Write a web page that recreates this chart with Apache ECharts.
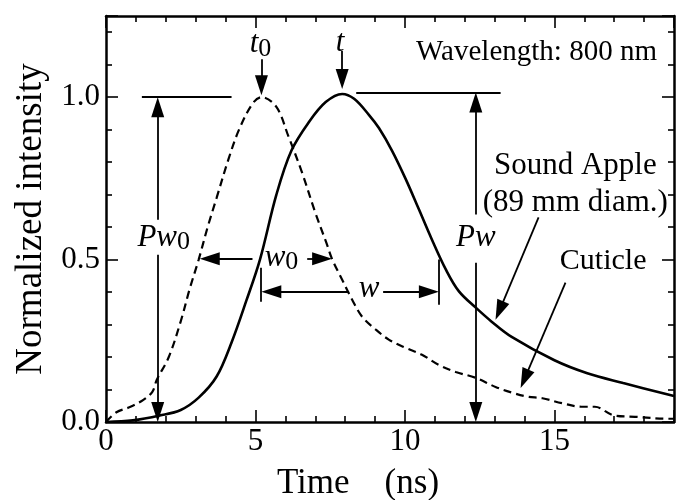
<!DOCTYPE html>
<html>
<head>
<meta charset="utf-8">
<script src="https://cdn.jsdelivr.net/npm/echarts@6/dist/echarts.min.js"></script>
<style>
  html, body { margin: 0; padding: 0; background: #fff; }
  #chart { width: 677px; height: 500px; }
</style>
</head>
<body>
<div id="chart"></div>
<script>
// time (ns) vs normalized intensity
const appleTime = [0, 0.9, 1.8, 2.5, 3.1, 3.7, 4.2, 4.7, 5.15, 5.7, 6.2, 6.8, 7.35, 7.9, 8.3, 8.8, 9.13, 9.57, 10.03, 10.47, 10.9, 11.37, 11.8, 12.37, 12.9, 13.57, 15.0, 16.1, 17.3, 19.0];
const appleIntensity = [0, 0.005, 0.02, 0.037, 0.075, 0.14, 0.245, 0.375, 0.5, 0.7, 0.835, 0.925, 0.985, 1.01, 0.995, 0.945, 0.905, 0.835, 0.747, 0.654, 0.562, 0.469, 0.403, 0.352, 0.309, 0.262, 0.19, 0.15, 0.12, 0.08];

const cuticleTime = [0, 0.35, 0.8, 1.25, 1.55, 1.7, 2.1, 2.5, 2.8, 3.1, 3.4, 3.7, 4.1, 4.45, 4.9, 5.2, 5.7, 6.1, 6.55, 7.0, 7.37, 7.57, 7.9, 8.23, 8.57, 9.03, 9.47, 10.03, 10.57, 11.13, 11.7, 12.37, 13.03, 13.6, 14.1, 14.6, 15.25, 15.9, 16.35, 17.0, 17.7, 18.8, 19.0];
const cuticleIntensity = [0, 0.03, 0.046, 0.068, 0.093, 0.13, 0.2, 0.31, 0.41, 0.5, 0.6, 0.69, 0.81, 0.9, 0.98, 1.0, 0.97, 0.88, 0.77, 0.645, 0.552, 0.5, 0.438, 0.377, 0.324, 0.284, 0.253, 0.228, 0.207, 0.176, 0.154, 0.136, 0.108, 0.09, 0.078, 0.073, 0.058, 0.047, 0.047, 0.02, 0.016, 0.01, 0.01];

const serif = 'Liberation Serif';
const black = '#000';

const chart = echarts.init(document.getElementById('chart'));

function pairs(xs, ys) {
  return xs.map((x, i) => [x, ys[i]]);
}

// plain segment or arrow (arrowhead on the second point)
function seg(a, b, arrow) {
  return [
    { coord: a, symbol: 'none' },
    { coord: b, symbol: arrow ? 'triangle' : 'none', symbolSize: [13, 20] }
  ];
}

function axisBase(extra) {
  return Object.assign({
    type: 'value',
    axisLine: { show: true, onZero: false, lineStyle: { color: black, width: 2.5 } },
    axisTick: { show: true, inside: true, length: 12, lineStyle: { color: black, width: 1.6 } },
    minorTick: { show: true, splitNumber: 5, length: 6, lineStyle: { color: black, width: 1.6 } },
    splitLine: { show: false },
    nameMoveOverlap: false
  }, extra);
}

const option = {
  animation: false,
  backgroundColor: '#fff',
  textStyle: { fontFamily: serif },
  grid: { left: 106, right: 3, top: 16, bottom: 78, containLabel: false, outerBoundsMode: 'none' },
  xAxis: [
    axisBase({
      min: 0, max: 19, interval: 5, position: 'bottom',
      axisLabel: { color: black, fontFamily: serif, fontSize: 31, margin: 4, showMaxLabel: false },
      name: 'Time    (ns)', nameLocation: 'middle', nameGap: 44,
      nameTextStyle: { color: black, fontFamily: serif, fontSize: 35, padding: [0, 64, 0, 0] }
    }),
    axisBase({ min: 0, max: 19, interval: 5, position: 'top', axisLabel: { show: false } })
  ],
  yAxis: [
    axisBase({
      min: 0, max: 1.25, interval: 0.5, position: 'left',
      axisLabel: { color: black, fontFamily: serif, fontSize: 31, margin: 6, showMaxLabel: false,
        formatter: v => v.toFixed(1) },
      name: 'Normalized intensity', nameLocation: 'middle', nameGap: 56,
      nameTextStyle: { color: black, fontFamily: serif, fontSize: 37 }
    }),
    axisBase({ min: 0, max: 1.25, interval: 0.5, position: 'right', axisLabel: { show: false } })
  ],
  series: [
    {
      name: 'Sound Apple',
      type: 'line',
      xAxisIndex: 0, yAxisIndex: 0,
      data: pairs(appleTime, appleIntensity),
      smooth: 0.35,
      symbol: 'none',
      color: black,
      lineStyle: { color: black, width: 2.6 },
      z: 3,
      markLine: {
        silent: true,
        animation: false,
        label: { show: false },
        lineStyle: { color: black, width: 1.8, type: 'solid' },
        itemStyle: { color: black },
        data: [
          seg([1.2, 1.0], [4.2, 1.0]),
          seg([1.73, 0.623], [1.73, 0.969], true),
          seg([1.73, 0.515], [1.73, 0.031], true),
          seg([5.2, 1.117], [5.2, 1.037], true),
          seg([7.9, 1.142], [7.9, 1.056], true),
          seg([8.37, 1.015], [13.2, 1.015]),
          seg([12.37, 0.639], [12.37, 0.984], true),
          seg([12.37, 0.49], [12.37, 0.031], true),
          seg([4.9, 0.503], [3.47, 0.503], true),
          seg([6.73, 0.503], [7.23, 0.503], true),
          seg([5.17, 0.475], [5.17, 0.37]),
          seg([8.13, 0.401], [5.53, 0.401], true),
          seg([9.27, 0.401], [10.8, 0.401], true),
          seg([11.13, 0.5], [11.13, 0.361]),
          seg([14.47, 0.63], [13.16, 0.343], true),
          seg([15.37, 0.429], [14.0, 0.133], true)
        ]
      }
    },
    {
      name: 'Cuticle',
      type: 'line',
      xAxisIndex: 0, yAxisIndex: 0,
      data: pairs(cuticleTime, cuticleIntensity),
      smooth: 0.35,
      symbol: 'none',
      color: black,
      lineStyle: { color: black, width: 2.2, type: [8, 5] },
      z: 2
    }
  ]
};

chart.setOption(option);

// text annotations, anchored in data coordinates
const rich = {
  i: { fontFamily: serif, fontStyle: 'italic', fontSize: 31, lineHeight: 36, fill: black },
  s: { fontFamily: serif, fontSize: 26, lineHeight: 14, verticalAlign: 'bottom', fill: black }
};
const notes = [
  { at: [5.17, 1.164], text: '{i|t}{s|0}' },
  { at: [7.83, 1.167], text: '{i|t}' },
  { at: [1.93, 0.568], text: '{i|Pw}{s|0}' },
  { at: [12.37, 0.568], text: '{i|Pw}' },
  { at: [5.87, 0.506], text: '{i|w}{s|0}' },
  { at: [8.8, 0.41], text: '{i|w}' },
  { at: [18.43, 1.139], text: 'Wavelength: 800 nm', size: 29, align: 'right' },
  { at: [15.7, 0.79], text: 'Sound Apple', size: 31 },
  { at: [15.7, 0.676], text: '(89 mm diam.)', size: 31 },
  { at: [16.63, 0.494], text: 'Cuticle', size: 30 }
];

chart.setOption({
  graphic: notes.map(n => {
    const p = chart.convertToPixel({ xAxisIndex: 0, yAxisIndex: 0 }, n.at);
    return {
      type: 'text',
      x: p[0], y: p[1],
      silent: true,
      z: 10,
      style: {
        text: n.text,
        rich: rich,
        fill: black,
        fontFamily: serif,
        fontSize: n.size || 31,
        align: n.align || 'center',
        verticalAlign: 'middle'
      }
    };
  })
});
</script>
</body>
</html>
